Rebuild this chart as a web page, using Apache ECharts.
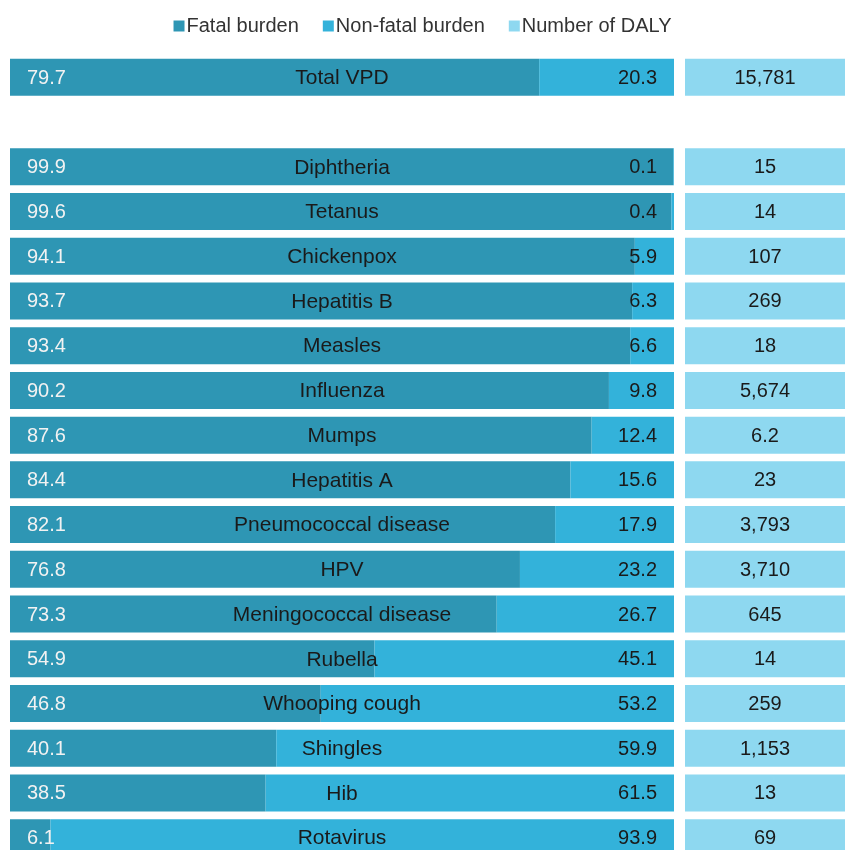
<!DOCTYPE html>
<html><head><meta charset="utf-8">
<script src="https://cdn.jsdelivr.net/npm/echarts@6/dist/echarts.min.js"></script>
<style>html,body{margin:0;padding:0;background:#fff;overflow:hidden}#c{width:845px;height:880px}</style>
</head><body><div id="c"></div>
<script>
const categories = ['Total VPD','','Diphtheria','Tetanus','Chickenpox','Hepatitis B','Measles','Influenza','Mumps','Hepatitis A','Pneumococcal disease','HPV','Meningococcal disease','Rubella','Whooping cough','Shingles','Hib','Rotavirus'];
const fatal    = [79.7,null,99.9,99.6,94.1,93.7,93.4,90.2,87.6,84.4,82.1,76.8,73.3,54.9,46.8,40.1,38.5,6.1];
const nonFatal = [20.3,null,0.1,0.4,5.9,6.3,6.6,9.8,12.4,15.6,17.9,23.2,26.7,45.1,53.2,59.9,61.5,93.9];
const daly     = [15781,null,15,14,107,269,18,5674,6.2,23,3793,3710,645,14,259,1153,13,69];

const FONT = "'Liberation Sans', Arial, sans-serif";
const FS = 20;
const C_FATAL = '#2E96B4', C_NON = '#33B2DA', C_DALY = '#8ED8F0';

const chart = echarts.init(document.getElementById('c'), null, {renderer:'canvas'});
chart.setOption({
  animation: false,
  textStyle: {fontFamily: FONT},
  legend: {
    data: ['Fatal burden','Non-fatal burden','Number of DALY'],
    top: 11, left: 'center', icon: 'rect', itemWidth: 11, itemHeight: 11, itemGap: 24,
    textStyle: {fontSize: 20, color: '#333', fontFamily: FONT, padding: [0,0,0,-3]}
  },
  grid: [
    {left: 10, width: 664, top: 55, height: 805},
    {left: 685, width: 170, top: 55, height: 805}
  ],
  xAxis: [
    {gridIndex: 0, type: 'value', min: 0, max: 100, show: false},
    {gridIndex: 0, type: 'value', min: 0, max: 100, show: false},
    {gridIndex: 1, type: 'value', min: 0, max: 1, show: false}
  ],
  yAxis: [
    {gridIndex: 0, type: 'category', data: categories, inverse: true, show: false},
    {gridIndex: 1, type: 'category', data: categories, inverse: true, show: false}
  ],
  series: [
    {name: 'Fatal burden', type: 'bar', stack: 'b', xAxisIndex: 0, yAxisIndex: 0, barWidth: 37,
     data: fatal, itemStyle: {color: C_FATAL},
     label: {show: true, position: 'insideLeft', distance: 17, offset: [0, 1], color: '#F2F2F2', fontSize: FS, fontFamily: FONT}},
    {name: 'Non-fatal burden', type: 'bar', stack: 'b', xAxisIndex: 0, yAxisIndex: 0, barWidth: 37,
     data: nonFatal, itemStyle: {color: C_NON},
     label: {show: true, position: 'insideRight', distance: 17, offset: [0, 1], color: '#1a1a1a', fontSize: FS, fontFamily: FONT}},
    {name: 'names', type: 'bar', xAxisIndex: 1, yAxisIndex: 0, barWidth: 37, barGap: '-100%', z: 5,
     data: categories.map(c => c ? 100 : null), itemStyle: {color: 'rgba(0,0,0,0)'}, silent: true,
     label: {show: true, position: 'inside', offset: [0, 1], formatter: p => categories[p.dataIndex], color: '#1a1a1a', fontSize: 21, fontFamily: FONT}},
    {name: 'Number of DALY', type: 'bar', xAxisIndex: 2, yAxisIndex: 1, barWidth: 37,
     data: daly.map(v => v == null ? null : 1), itemStyle: {color: C_DALY},
     label: {show: true, position: 'inside', offset: [0, 1], formatter: p => daly[p.dataIndex].toLocaleString('en-US'), color: '#1a1a1a', fontSize: FS, fontFamily: FONT}}
  ]
});
</script></body></html>
